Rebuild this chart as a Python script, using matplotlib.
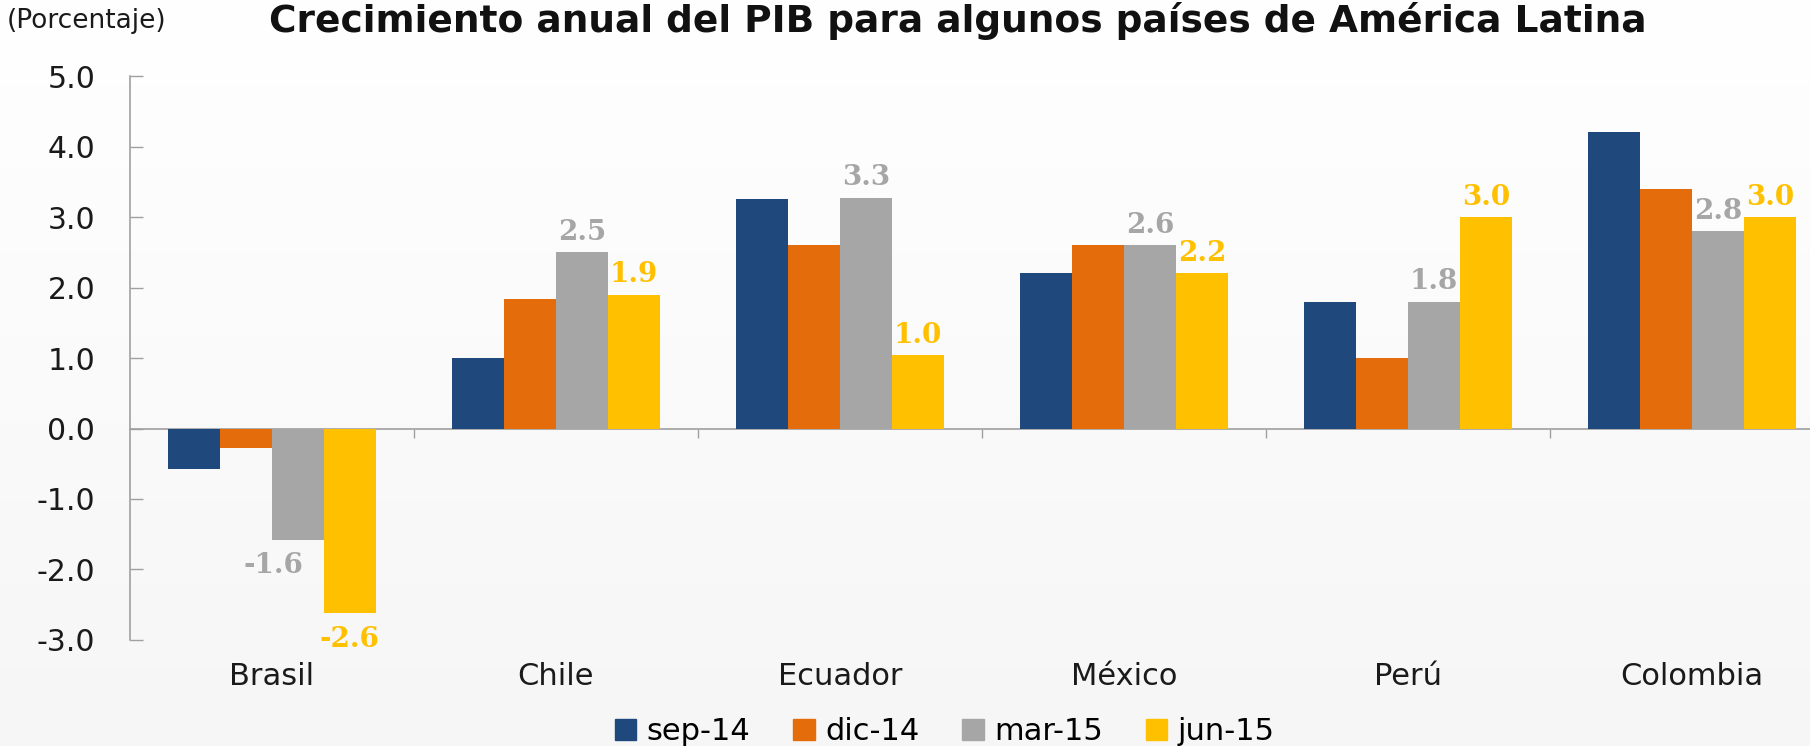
import matplotlib

matplotlib.use("Agg")
import matplotlib.pyplot as plt
import numpy as np
from matplotlib.patches import Patch

# data
countries = ["Brasil", "Chile", "Ecuador", "México", "Perú", "Colombia"]
periods = ["sep-14", "dic-14", "mar-15", "jun-15"]
sep14 = [-0.58, 1.0, 3.25, 2.2, 1.8, 4.2]
dic14 = [-0.27, 1.83, 2.6, 2.6, 1.0, 3.4]
mar15 = [-1.58, 2.5, 3.27, 2.6, 1.8, 2.8]
jun15 = [-2.62, 1.9, 1.04, 2.2, 3.0, 3.0]
yticks = [5.0, 4.0, 3.0, 2.0, 1.0, 0.0, -1.0, -2.0, -3.0]

BLUE = "#1f497d"
ORANGE = "#e46c0a"
GREY = "#a6a6a6"
YELLOW = "#ffc000"
AXIS = "#a0a0a0"
INK = "#1a1a1a"

plt.rcParams["font.family"] = ["DejaVu Sans"]

fig = plt.figure(figsize=(18.10, 7.46), dpi=100)

# soft white-to-grey background
bg = fig.add_axes([0, 0, 1, 1], zorder=-5)
grad = np.linspace(1.0, 0.965, 256).reshape(-1, 1)
bg.imshow(np.dstack([grad, grad, grad]), aspect="auto", extent=[0, 1, 0, 1])
bg.axis("off")

ax = fig.add_axes([0.0718, 0.1421, 0.9415, 0.756])
ax.patch.set_alpha(0)

series = [sep14, dic14, mar15, jun15]
colors = [BLUE, ORANGE, GREY, YELLOW]
w = 0.183
x = np.arange(len(countries))
for i, (vals, c) in enumerate(zip(series, colors)):
    pos = x + (i - 1.5) * w
    ax.bar(pos, vals, width=w, color=c, zorder=3)
    if i >= 2:  # only mar-15 and jun-15 carry value labels
        for px, v in zip(pos, vals):
            # negative mar-15 label is nudged left so it clears the jun-15 bar
            dx = -18 if (v < 0 and i == 2) else 0
            ax.annotate(
                f"{v:.1f}",
                (px, v),
                xytext=(dx, 9 if v >= 0 else -9),
                textcoords="offset points",
                ha="center",
                va="baseline" if v >= 0 else "top",
                color=c,
                fontsize=20,
                fontweight="bold",
                family="DejaVu Serif",
            )

ax.set_xlim(-0.5, len(countries) - 0.5)
ax.set_ylim(-3.0, 5.0)
ax.set_yticks(yticks)
ax.set_yticklabels([f"{t:.1f}" for t in yticks])
ax.tick_params(axis="y", direction="in", length=9.5, width=1, color=AXIS,
               labelsize=21.5, labelcolor=INK, pad=25)

ax.spines["top"].set_visible(False)
ax.spines["right"].set_visible(False)
ax.spines["left"].set_color(AXIS)
ax.spines["bottom"].set_color(AXIS)
ax.spines["left"].set_linewidth(1.2)
ax.spines["bottom"].set_linewidth(1.2)
ax.spines["bottom"].set_position(("data", 0))
ax.set_xticks(x[:-1] + 0.5)
ax.set_xticklabels([])
ax.tick_params(axis="x", direction="out", length=6.5, width=1, color=AXIS)

for xi, name in zip(x, countries):
    ax.annotate(name, (xi, 0), xycoords=ax.get_xaxis_transform(),
                xytext=(0, -26), textcoords="offset points",
                ha="center", va="center", fontsize=22, color=INK)

fig.text(0.529, 0.972, "Crecimiento anual del PIB para algunos países de América Latina",
         ha="center", va="center", fontsize=27, fontweight="bold", color="#111111")
fig.text(0.004, 0.972, "(Porcentaje)", ha="left", va="center", fontsize=19, color=INK)

handles = [Patch(color=c, label=p) for c, p in zip(colors, periods)]
fig.legend(handles=handles, loc="center", bbox_to_anchor=(0.522, 0.019), ncol=4,
           frameon=False, fontsize=22, handlelength=0.7, handleheight=0.7,
           handletextpad=0.35, columnspacing=1.4)

fig.savefig("out.png", dpi=100)
